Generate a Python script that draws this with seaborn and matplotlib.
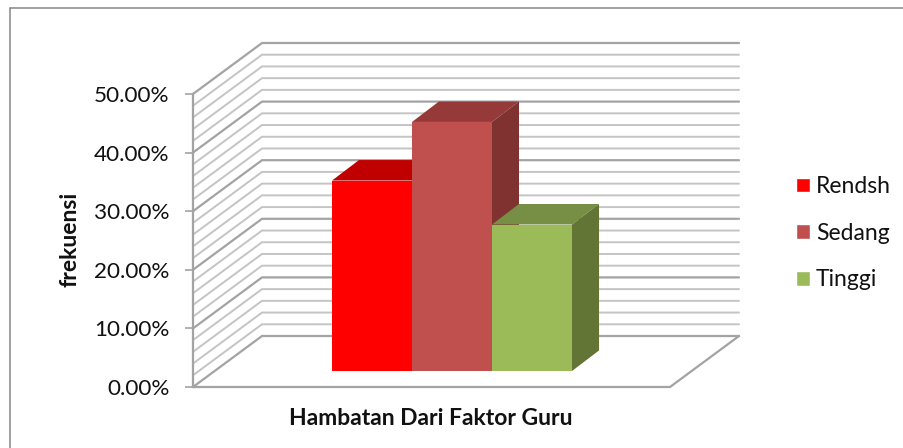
import numpy as np
import pandas as pd
import matplotlib
matplotlib.use("Agg")
import matplotlib.pyplot as plt
from matplotlib.lines import Line2D
from matplotlib.patches import Polygon
import seaborn as sns

category = "Hambatan Dari Faktor Guru"
series = ["Rendsh", "Sedang", "Tinggi"]
values = [32.5, 42.5, 25.0]
front_colors = ["#FF0000", "#C0504D", "#9BBB59"]
top_colors = ["#C00000", "#953A38", "#778E45"]
side_colors = ["#A00000", "#7F3230", "#637535"]
tick_values = [0, 10, 20, 30, 40, 50]
tick_labels = ["0.00%", "10.00%", "20.00%", "30.00%", "40.00%", "50.00%"]
minor_step = 2

sns.set_theme(style="white")
plt.rcParams["font.family"] = ["Lato", "DejaVu Sans"]

W, H = 904, 448
fig = plt.figure(figsize=(W / 100, H / 100), dpi=100, facecolor="white")


def rect(left, right, bottom, top):
    return [left / W, 1 - bottom / H, (right - left) / W, (bottom - top) / H]


# frame
for xs, ys in [((9.5, 9.5), (448, 8.5)), ((9.5, 904), (8.5, 8.5))]:
    fig.add_artist(Line2D([x / W for x in xs], [1 - y / H for y in ys], color="#868686", lw=1.1))

# walls
ax = fig.add_axes(rect(193, 670, 387, 94))
ax.set_xlim(0, 1)
ax.set_ylim(0, 50)
ax.patch.set_alpha(0)
wall_dx = 69 / 477
wall_dy = 51 / (293 / 50)
for v in np.arange(0, 50 + minor_step, minor_step):
    major = v % 10 == 0
    ax.plot([0, wall_dx, 1 + wall_dx], [v, v + wall_dy, v + wall_dy],
            color="#A3A3A3" if major else "#C4C4C4", lw=1.6 if major else 1.4,
            clip_on=False, zorder=1, solid_joinstyle="miter")
ax.plot([0, 1, 1 + wall_dx], [0, 0, wall_dy], color="#A3A3A3", lw=1.6, clip_on=False, zorder=1)

ax.set_xticks([])
ax.set_yticks(tick_values)
ax.set_yticklabels(tick_labels, fontsize=16.2, color="#111111")
ax.tick_params(axis="y", length=5.8, width=1.2, color="#A3A3A3", pad=11, left=True)
for name, spine in ax.spines.items():
    spine.set_visible(name == "left")
    spine.set_color("#A3A3A3")
    spine.set_linewidth(1.6)

px = fig.transFigure
ax.set_ylabel("frekuensi", fontsize=16.5, fontweight="bold", color="#111111")
ax.yaxis.set_label_coords(70 / W, 1 - 239 / H, transform=px)
ax.set_xlabel(category, fontsize=16.5, fontweight="bold", color="#111111")
ax.xaxis.set_label_coords(431 / W, 1 - 418 / H, transform=px)
ax.xaxis.label.set_verticalalignment("center")
ax.yaxis.label.set_verticalalignment("center")

# bars
df = pd.DataFrame({"kategori": [category] * len(series), "seri": series, "nilai": values})
ax2 = fig.add_axes(rect(332, 572, 371, 78))
ax2.patch.set_alpha(0)
sns.barplot(data=df, x="kategori", y="nilai", hue="seri", hue_order=series,
            palette=front_colors, saturation=1, width=1, dodge=True, ax=ax2, legend=True)
ax2.set_xlim(-0.5, 0.5)
ax2.set_ylim(0, 50)
ax2.axis("off")

bar_dx = 27 / 240
bar_dy = 20.5 / (293 / 50)
for i, (bar, top_c, side_c) in enumerate(zip(ax2.patches, top_colors, side_colors)):
    x0, x1 = bar.get_x(), bar.get_x() + bar.get_width()
    h = bar.get_height()
    z = 3 + i * 2
    ax2.add_patch(Polygon([(x0, h), (x1, h), (x1 + bar_dx, h + bar_dy), (x0 + bar_dx, h + bar_dy)],
                          closed=True, facecolor=top_c, edgecolor="none", zorder=z, clip_on=False))
    ax2.add_patch(Polygon([(x1, 0), (x1 + bar_dx, bar_dy), (x1 + bar_dx, h + bar_dy), (x1, h)],
                          closed=True, facecolor=side_c, edgecolor="none", zorder=z, clip_on=False))
    bar.set_zorder(z + 1)
    bar.set_edgecolor("none")

handles, labels = ax2.get_legend_handles_labels()
ax2.get_legend().remove()
fig.legend(handles, labels, loc="upper left", bbox_to_anchor=(796 / W, 1 - 176 / H),
           bbox_transform=fig.transFigure, frameon=False, fontsize=16.5,
           handlelength=0.61, handleheight=0.61, handletextpad=0.26, labelspacing=1.12,
           borderpad=0, borderaxespad=0, labelcolor="#111111")

fig.savefig("out.png", dpi=100, facecolor="white")
